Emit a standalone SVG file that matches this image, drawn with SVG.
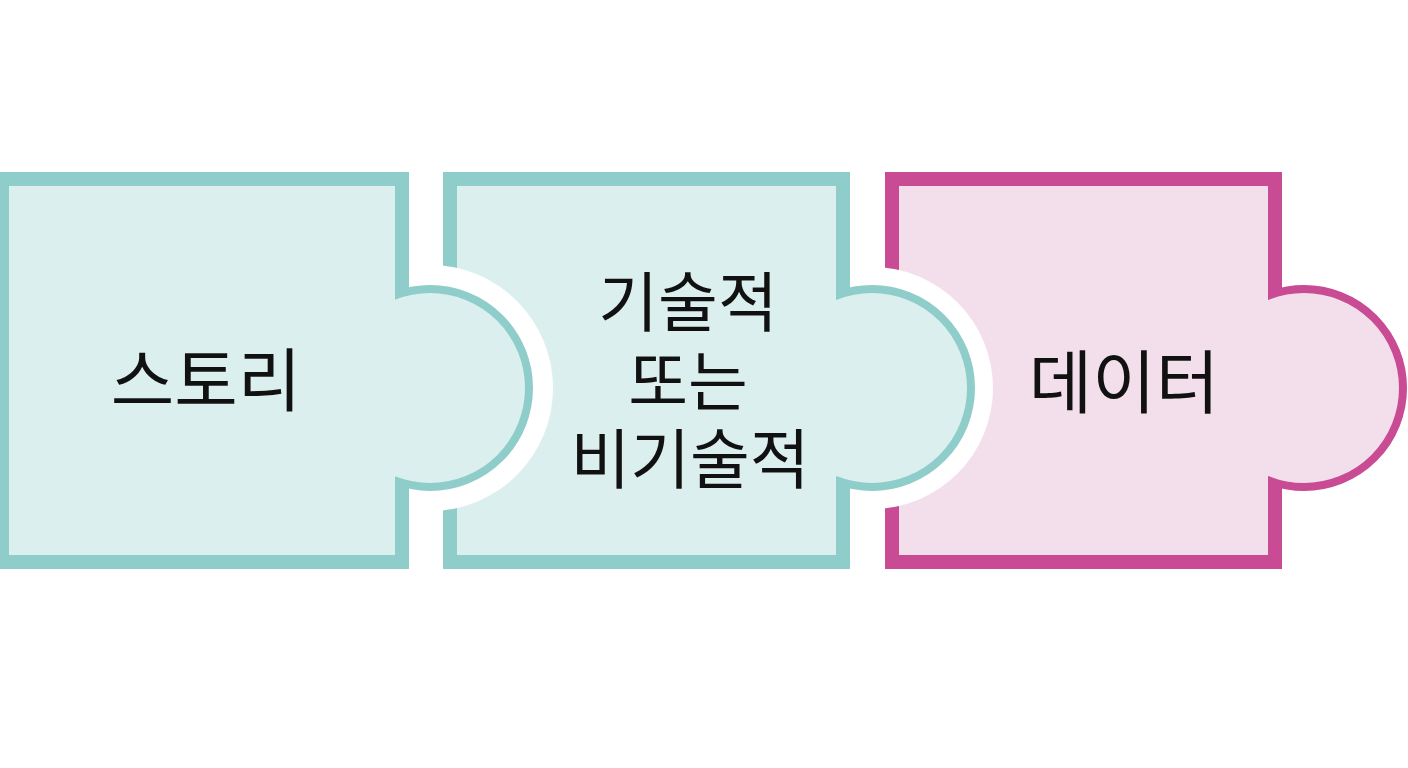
<svg xmlns="http://www.w3.org/2000/svg" width="1408" height="768" viewBox="0 0 1408 768">
<defs>
<style>
.teal{fill:#dcefef;stroke:#8ecdc9;stroke-width:14}
.tealTab{fill:#dcefef;stroke:#8ecdc9;stroke-width:8}
.pink{fill:#f3dfec;stroke:#c84b93;stroke-width:14}
.pinkTab{fill:#f3dfec;stroke:#c84b93;stroke-width:8}
.halo{fill:#ffffff}
.lbl{font-family:"Noto Sans CJK KR","Noto Sans",sans-serif;font-weight:400;fill:#111111;text-anchor:middle}
</style>
<clipPath id="c1" clipPathUnits="userSpaceOnUse"><rect x="395" y="250" width="200" height="280"/></clipPath>
<clipPath id="c2" clipPathUnits="userSpaceOnUse"><rect x="836" y="250" width="200" height="280"/></clipPath>
<clipPath id="c3" clipPathUnits="userSpaceOnUse"><rect x="1268" y="250" width="200" height="280"/></clipPath>
</defs>
<rect width="1408" height="768" fill="#ffffff"/>
<g id="connectors"/>
<g id="node-data">
<rect class="pink" x="892" y="179" width="383" height="383"/>
<circle class="pinkTab" cx="1304" cy="388" r="99" clip-path="url(#c3)"/>
<text class="lbl" x="1124" y="408" font-size="69">데이터</text>
</g>
<circle class="halo" cx="872" cy="388" r="121"/>
<g id="node-technical">
<rect class="teal" x="450" y="179" width="393" height="383"/>
<circle class="tealTab" cx="872" cy="388" r="99" clip-path="url(#c2)"/>
<text class="lbl" x="688" y="326" font-size="65">기술적</text>
<text class="lbl" x="688" y="405" font-size="65">또는</text>
<text class="lbl" x="690" y="483" font-size="65">비기술적</text>
</g>
<circle class="halo" cx="430" cy="388" r="123"/>
<g id="node-story">
<rect class="teal" x="2" y="179" width="400" height="383"/>
<circle class="tealTab" cx="430" cy="388" r="99" clip-path="url(#c1)"/>
<text class="lbl" x="206" y="406" font-size="69">스토리</text>
</g>
</svg>
